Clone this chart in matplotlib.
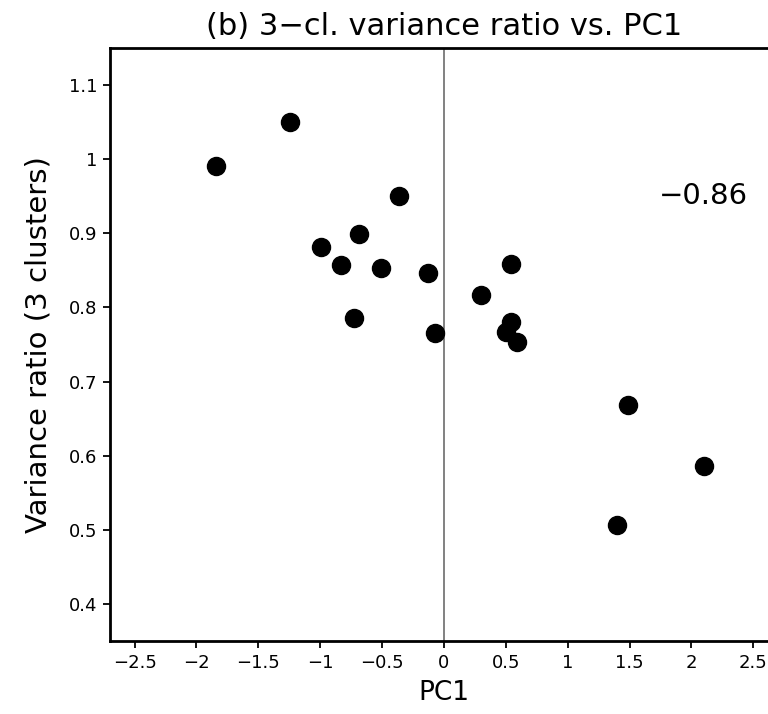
import matplotlib
matplotlib.use("Agg")
import matplotlib.pyplot as plt

# PC1 score and 3-cluster variance ratio
pc1 = [-1.84, -1.24, -0.36, -0.69, -0.99, -0.83, -0.51, -0.13, -0.73, -0.07,
       0.54, 0.30, 0.54, 0.50, 0.59, 1.49, 2.10, 1.40]
var_ratio = [0.991, 1.050, 0.951, 0.899, 0.881, 0.857, 0.853, 0.847, 0.786, 0.766,
             0.859, 0.817, 0.780, 0.767, 0.754, 0.668, 0.586, 0.506]
corr_label = "\u22120.86"

xticks = [-2.5, -2, -1.5, -1, -0.5, 0, 0.5, 1, 1.5, 2, 2.5]
xticklabels = ["\u22122.5", "\u22122", "\u22121.5", "\u22121", "\u22120.5", "0",
               "0.5", "1", "1.5", "2", "2.5"]
yticks = [0.4, 0.5, 0.6, 0.7, 0.8, 0.9, 1.0, 1.1]
yticklabels = ["0.4", "0.5", "0.6", "0.7", "0.8", "0.9", "1", "1.1"]

fig = plt.figure(figsize=(7.68, 7.14), dpi=100)
ax = fig.add_axes([0.143, 0.1022, 0.870, 0.8306])

ax.axvline(0, color="#777777", lw=1.3, zorder=1)
ax.plot(pc1, var_ratio, "o", color="black", markersize=13, zorder=3)

ax.set_xlim(-2.7, 2.7)
ax.set_ylim(0.35, 1.15)
ax.set_xticks(xticks)
ax.set_xticklabels(xticklabels)
ax.set_yticks(yticks)
ax.set_yticklabels(yticklabels)
ax.tick_params(direction="out", length=5, width=1.3, labelsize=13, pad=4)

for sp in ax.spines.values():
    sp.set_linewidth(2)

ax.text(2.1, 0.95, corr_label, ha="center", va="center", fontsize=21)
ax.set_title("(b) 3\u2212cl. variance ratio vs. PC1", fontsize=22, pad=9)
ax.set_xlabel("PC1", fontsize=19, labelpad=6)
ax.set_ylabel("Variance ratio (3 clusters)", fontsize=21, labelpad=12)

fig.savefig("out.png", dpi=100)
